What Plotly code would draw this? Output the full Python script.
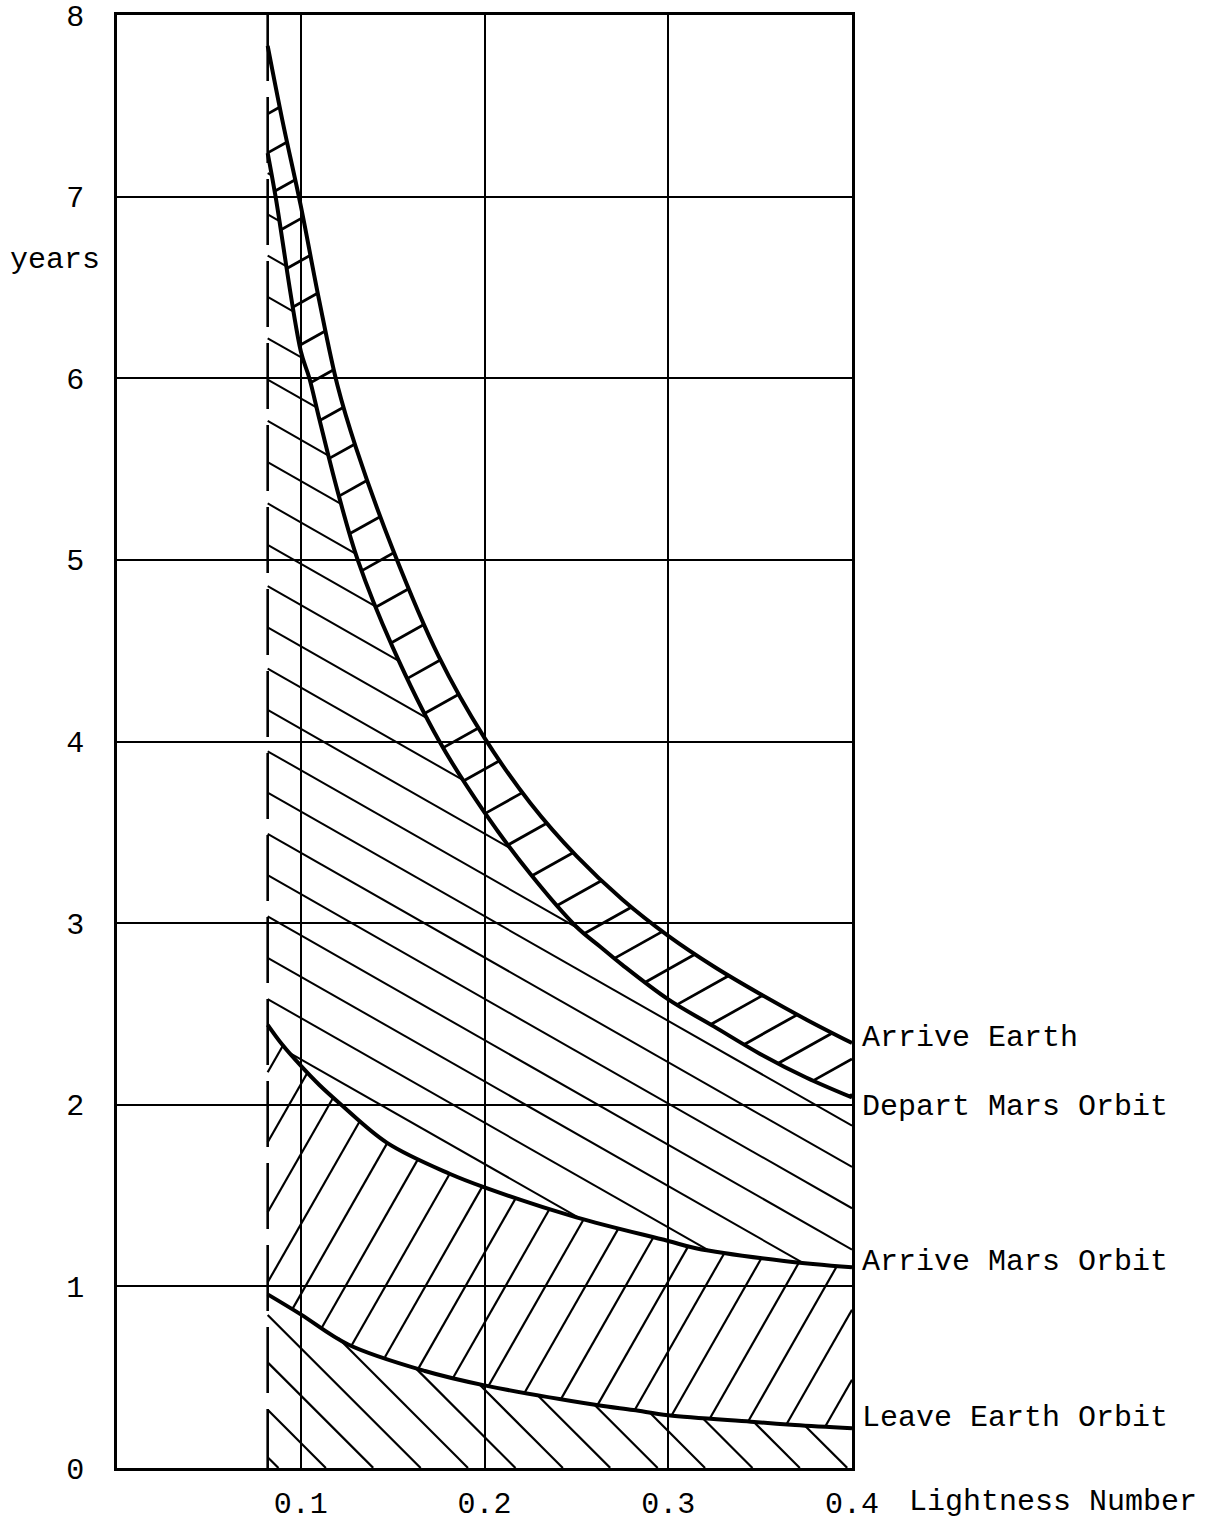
import numpy as np
import plotly.graph_objects as go

# ---- axis ticks ----
lightness_ticks = [0.1, 0.2, 0.3, 0.4]
lightness_tick_text = ["0.1", "0.2", "0.3", "0.4"]
year_ticks = [0, 1, 2, 3, 4, 5, 6, 7, 8]

# smallest lightness number considered (dashed boundary)
min_lightness = 0.082

# ---- mission milestones: years after launch vs lightness number ----
arrive_earth_x = [0.082, 0.09, 0.1, 0.11, 0.12, 0.13, 0.15, 0.175, 0.2, 0.225,
                  0.25, 0.275, 0.3, 0.325, 0.35, 0.375, 0.4]
arrive_earth_y = [7.83, 7.42, 6.95, 6.43, 5.96, 5.62, 5.06, 4.47, 4.02, 3.66,
                  3.37, 3.13, 2.93, 2.76, 2.61, 2.47, 2.34]

depart_mars_x = [0.082, 0.0863, 0.1, 0.1047, 0.11, 0.12, 0.131, 0.15, 0.1755, 0.2,
                 0.225, 0.25, 0.263, 0.275, 0.3, 0.325, 0.35, 0.375, 0.4]
depart_mars_y = [7.24, 7.0, 6.15, 6.0, 5.78, 5.38, 5.0, 4.52, 4.0, 3.61,
                 3.27, 2.98, 2.87, 2.77, 2.58, 2.43, 2.28, 2.15, 2.04]

arrive_mars_x = [0.082, 0.09, 0.1, 0.11, 0.122, 0.147, 0.181, 0.2, 0.25, 0.3,
                 0.315, 0.363, 0.4]
arrive_mars_y = [2.44, 2.33, 2.215, 2.11, 2.0, 1.79, 1.62, 1.545, 1.38, 1.25,
                 1.21, 1.14, 1.105]

leave_earth_x = [0.082, 0.1, 0.1258, 0.1676, 0.2, 0.261, 0.281, 0.3, 0.345, 0.369, 0.4]
leave_earth_y = [0.956, 0.846, 0.68, 0.534, 0.455, 0.347, 0.319, 0.29, 0.255, 0.237, 0.219]

curve_labels = ["Arrive Earth", "Depart Mars Orbit", "Arrive Mars Orbit", "Leave Earth Orbit"]

# ---- layout geometry ----
W, H = 1208, 1522
M_L, M_R, M_T, M_B = 117, 356, 15, 54
X_MAX, Y_MAX = 0.4, 8.0
KX = (W - M_L - M_R) / X_MAX   # px per lightness unit
KY = (H - M_T - M_B) / Y_MAX   # px per year

FONT = "Liberation Mono, Courier New, monospace"
INK = "black"


def curve(xs_ref, ys_ref):
    return lambda x: np.interp(x, xs_ref, ys_ref)


ae = curve(arrive_earth_x, arrive_earth_y)
dm = curve(depart_mars_x, depart_mars_y)
am = curve(arrive_mars_x, arrive_mars_y)
le = curve(leave_earth_x, leave_earth_y)
floor = lambda x: np.zeros_like(x)


def hatch(lower, upper, slope_px, y0, spacing_px, k_range, n=4000):
    """Parallel lines (screen slope slope_px, rising when positive) clipped
    between lower(x) and upper(x) on [min_lightness, X_MAX]."""
    m = slope_px * KX / KY
    dy = spacing_px / KY
    xs = np.linspace(min_lightness, X_MAX, n)
    lo, hi = lower(xs), upper(xs)
    hx, hy = [], []
    for k in k_range:
        yl = y0 + k * dy + m * (xs - min_lightness)
        inside = ((yl >= lo) & (yl <= hi)).astype(int)
        edges = np.flatnonzero(np.diff(np.concatenate(([0], inside, [0]))))
        for s, e in zip(edges[::2], edges[1::2]):
            if e - 1 <= s:
                continue
            hx += [xs[s], xs[e - 1], None]
            hy += [yl[s], yl[e - 1], None]
    return hx, hy


# below "Leave Earth Orbit"
h1 = hatch(floor, le, -1.0, 0.8425, 47.4, range(-60, 60))
# between "Leave Earth Orbit" and "Arrive Mars Orbit"
h2 = hatch(le, am, 1.75, 0.637, 70.0, range(-60, 60))
# between "Arrive Mars Orbit" and "Depart Mars Orbit"
h3 = hatch(am, dm, -0.57, 6.22, 41.3, range(-60, 60))


# ladder between "Depart Mars Orbit" and "Arrive Earth"
def ladder(step_px=39.0, first_px=68.0, slope_px=0.56, n=3000):
    m = slope_px * KX / KY
    bx = np.concatenate(([min_lightness, min_lightness],
                         np.linspace(min_lightness, X_MAX, n)))
    by = np.concatenate(([ae(min_lightness), dm(min_lightness)],
                         dm(np.linspace(min_lightness, X_MAX, n))))
    px, py = bx * KX, by * KY
    arc = np.concatenate(([0.0], np.cumsum(np.hypot(np.diff(px), np.diff(py)))))
    hx, hy = [], []
    s = first_px
    while s < arc[-1]:
        sx = float(np.interp(s, arc, bx))
        sy = float(np.interp(s, arc, by))
        xs = np.linspace(sx, X_MAX, n)
        yl = sy + m * (xs - sx)
        hit = np.flatnonzero(yl >= ae(xs))
        j = hit[0] if hit.size else n - 1
        hx += [sx, xs[j], None]
        hy += [sy, yl[j], None]
        s += step_px
    return hx, hy


h4 = ladder()

fig = go.Figure()

for hx, hy, wdt in [(h1[0], h1[1], 2.2), (h2[0], h2[1], 2.2),
                    (h3[0], h3[1], 2.0), (h4[0], h4[1], 2.8)]:
    fig.add_trace(go.Scatter(x=hx, y=hy, mode="lines",
                             line=dict(color=INK, width=wdt),
                             hoverinfo="skip", showlegend=False))

for cx, cy in [(arrive_earth_x, arrive_earth_y), (depart_mars_x, depart_mars_y),
               (arrive_mars_x, arrive_mars_y), (leave_earth_x, leave_earth_y)]:
    fig.add_trace(go.Scatter(x=cx, y=cy, mode="lines",
                             line=dict(color=INK, width=4, shape="spline", smoothing=1.0),
                             hoverinfo="skip", showlegend=False))

# dashed lower bound of lightness number
fig.add_trace(go.Scatter(x=[min_lightness, min_lightness], y=[Y_MAX, 0], mode="lines",
                         line=dict(color=INK, width=2.6, dash="66px,16px"),
                         hoverinfo="skip", showlegend=False))

# curve names at the right-hand end
label_shift = [5, -10, 5, 10]
label_y = [arrive_earth_y[-1], depart_mars_y[-1], arrive_mars_y[-1], leave_earth_y[-1]]
for txt, yv, sh in zip(curve_labels, label_y, label_shift):
    fig.add_annotation(x=X_MAX, y=yv, xref="x", yref="y", text=txt, showarrow=False,
                       xanchor="left", yanchor="middle", xshift=8, yshift=sh,
                       font=dict(family=FONT, size=30, color=INK))

fig.add_annotation(x=X_MAX, y=0, xref="x", yref="y", text="Lightness Number",
                   showarrow=False, xanchor="left", yanchor="middle",
                   xshift=55, yshift=-34, font=dict(family=FONT, size=30, color=INK))
fig.add_annotation(x=0, y=6.652, xref="x", yref="y", text="years", showarrow=False,
                   xanchor="center", yanchor="middle", xshift=-62,
                   font=dict(family=FONT, size=30, color=INK))

fig.update_xaxes(range=[0, X_MAX], tickvals=lightness_ticks, ticktext=lightness_tick_text,
                 showgrid=True, gridcolor=INK, gridwidth=2, zeroline=False,
                 showline=True, linecolor=INK, linewidth=2.5, mirror=True,
                 ticks="", ticklabelstandoff=6, automargin=False,
                 tickfont=dict(family=FONT, size=30, color=INK))
fig.update_yaxes(range=[0, Y_MAX], tickvals=year_ticks,
                 showgrid=True, gridcolor=INK, gridwidth=2, zeroline=False,
                 showline=True, linecolor=INK, linewidth=2.5, mirror=True,
                 ticks="", ticklabelstandoff=24, automargin=False,
                 tickfont=dict(family=FONT, size=30, color=INK))

fig.update_layout(width=W, height=H, margin=dict(l=M_L, r=M_R, t=M_T, b=M_B),
                  plot_bgcolor="white", paper_bgcolor="white", showlegend=False,
                  font=dict(family=FONT, color=INK))

fig.write_html("out.html")
